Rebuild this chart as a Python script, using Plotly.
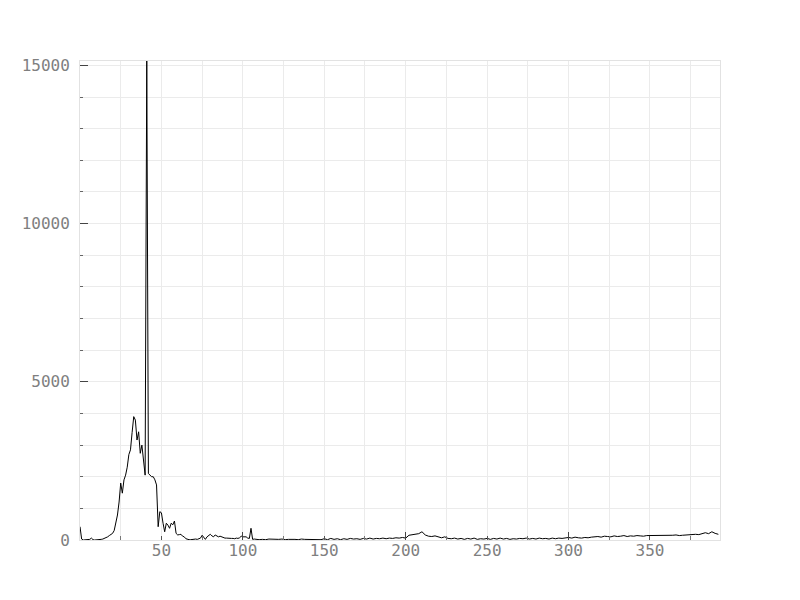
import plotly.graph_objects as go

# ---- data ----
x_head = list(range(0, 111))
y_head = [
    420, 30, 0, 10, 0, 10, 20, 60, 10, 0,
    0, 10, 10, 20, 30, 50, 80, 100, 140, 170,
    210, 300, 520, 790, 1200, 1800, 1480, 1900, 2050, 2300,
    2700, 2850, 3400, 3900, 3790, 3160, 3420, 2740, 3000, 2580,
    2050, 15140, 2100, 2050, 2000, 2000, 1900, 1740, 420, 895,
    860, 530, 260, 530, 470, 370, 530, 480, 600, 210,
    160, 170, 180, 120, 100, 40, 20, 10, 10, 20,
    10, 30, 20, 40, 60, 150, 90, 20, 100, 140,
    180, 130, 100, 160, 130, 100, 120, 100, 70, 60,
    60, 50, 60, 50, 50, 40, 60, 50, 70, 120,
    100, 100, 100, 60, 50, 370, 20, 30, 20, 20,
    10,
]
x_tail = list(range(112, 393, 2))
y_tail = [
    # 112 .. 148
    20, 10, 30, 20, 10, 20, 30, 10, 20, 30, 20, 10, 30, 20, 20, 10, 30, 20, 10,
    # 150 .. 198
    40, 10, 50, 20, 40, 10, 40, 20, 50, 30, 40, 20, 50, 30, 60, 30, 50, 40, 60, 40,
    60, 50, 70, 60, 80,
    # 200 .. 224
    60, 150, 160, 190, 200, 260, 160, 120, 110, 130, 90, 70, 100,
    # 226 .. 298
    50, 40, 60, 30, 50, 20, 50, 30, 60, 20, 40, 30, 50, 20, 50, 30, 60, 30, 50, 20,
    40, 30, 50, 40, 60, 30, 50, 30, 60, 40, 50, 30, 60, 40, 60, 50, 70,
    # 300 .. 348
    80, 60, 90, 70, 60, 80, 70, 90, 100, 110, 90, 120, 110, 100, 130, 110, 120, 140,
    110, 130, 120, 140, 130, 120, 140,
    # 350 .. 392
    140, 130, 150, 140, 130, 150, 140, 150, 160, 140, 150, 160, 150, 170, 180, 170,
    190, 230, 200, 260, 210, 180, 200, 160, 170, 190, 170, 150,
]
x_vals = x_head + x_tail[: len(y_tail)]
y_vals = y_head + y_tail[: len(x_tail)]
x_vals = x_vals[: len(y_vals)]

x_tick_vals = [50, 100, 150, 200, 250, 300, 350]
y_tick_vals = [0, 5000, 10000, 15000]
x_range = [0, 393]
y_range = [0, 15140]

font_family = "DejaVu Sans Mono"
grid_col = "#ebebeb"
line_col = "#e2e2e2"

fig = go.Figure()
fig.add_trace(go.Scatter(x=x_vals, y=y_vals, mode="lines",
                         line=dict(color="#000000", width=1), showlegend=False))

fig.update_layout(
    width=800, height=600,
    margin=dict(l=72, r=88, t=53, b=68),
    paper_bgcolor="white", plot_bgcolor="white",
    font=dict(family=font_family, size=16, color="#7f7f7f"),
    xaxis=dict(
        range=x_range, tickmode="array", tickvals=x_tick_vals,
        ticks="inside", ticklen=4, tickcolor="#555", automargin=False,
        showgrid=True, gridcolor=grid_col, zeroline=False,
        showline=True, linecolor=line_col, mirror=True, ticklabelstandoff=-4,
        minor=dict(dtick=25, tick0=0, ticks="inside", ticklen=4, tickcolor="#777",
                   showgrid=True, gridcolor=grid_col),
    ),
    xaxis2=dict(
        range=x_range, overlaying="x", anchor="y", side="bottom",
        dtick=100, tick0=0, ticks="inside", ticklen=8, tickcolor="#444",
        showticklabels=False, showgrid=False, zeroline=False, showline=False,
        automargin=False,
    ),
    yaxis=dict(
        range=y_range, tickmode="array", tickvals=y_tick_vals, tickformat="d",
        ticks="inside", ticklen=8, tickcolor="#444", automargin=False,
        showgrid=True, gridcolor=grid_col, zeroline=False,
        showline=True, linecolor=line_col, mirror=True, ticklabelstandoff=6,
        minor=dict(dtick=1000, tick0=0, ticks="inside", ticklen=3, tickcolor="#666",
                   showgrid=True, gridcolor=grid_col),
    ),
)
# invisible helper trace so the overlay axis with the 100-step ticks is drawn
fig.add_trace(go.Scatter(x=[x_range[0]], y=[0], xaxis="x2", mode="lines",
                         line=dict(width=0), showlegend=False, hoverinfo="skip"))

fig.write_html("out.html")
